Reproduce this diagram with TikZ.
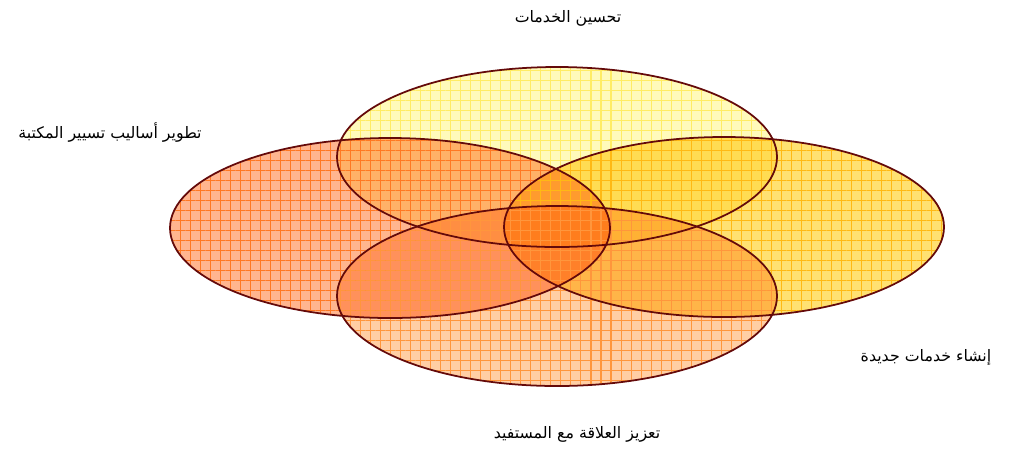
\documentclass[tikz,border=0pt]{standalone}
\usepackage{fontspec}
\usepackage{tikz}
\usetikzlibrary{shapes.geometric,patterns.meta}
\newfontfamily\arabicfont[Script=Arabic]{DejaVu Sans}
\TeXXeTstate=1
\definecolor{vennborder}{RGB}{100,10,10}
\definecolor{topfill}{RGB}{255,249,168}
\definecolor{topgrid}{RGB}{255,236,100}
\definecolor{leftfill}{RGB}{255,160,112}
\definecolor{leftgrid}{RGB}{255,120,35}
\definecolor{rightfill}{RGB}{255,216,74}
\definecolor{rightgrid}{RGB}{255,185,20}
\definecolor{botfill}{RGB}{255,192,138}
\definecolor{botgrid}{RGB}{255,150,60}

\tikzset{
  venn/.style={ellipse, inner sep=0pt,
    minimum width=8.8cm, minimum height=3.6cm, fill=#1, fill opacity=0.78},
  venngrid/.style={pattern={Hatch[angle=0,distance=5.7pt,line width=0.6pt]},
    pattern color=#1, fill opacity=0.7},
  arlabel/.style={font=\arabicfont\small, inner sep=1pt}
}

\begin{document}
\begin{tikzpicture}
  \useasboundingbox (0,0) rectangle (20.18,-9.02);
  % the four sets
  \begin{scope}[blend mode=multiply]
    \node[venn=topfill] (services) at (11.14,-3.14) {};
    \node[venn=leftfill] (methods) at (7.8,-4.56) {};
    \node[venn=rightfill] (newserv) at (14.48,-4.54) {};
    \node[venn=botfill] (users) at (11.14,-5.92) {};
  \end{scope}
  % grid texture, then outlines on top
  \foreach \n/\c in {services/topgrid,methods/leftgrid,newserv/rightgrid,users/botgrid}
    \fill[venngrid=\c] (\n.center) ellipse [x radius=4.4cm, y radius=1.8cm];
  \foreach \n in {services,methods,newserv,users}
    \draw[vennborder,line width=1pt] (\n.center) ellipse [x radius=4.4cm, y radius=1.8cm];
  % labels
  \node[arlabel] (lservices) at (11.36,-0.36) {\beginR تحسين الخدمات\endR};
  \node[arlabel] (lmethods) at (2.2,-2.66) {\beginR تطوير أساليب تسيير المكتبة\endR};
  \node[arlabel] (lnewserv) at (18.52,-7.14) {\beginR إنشاء خدمات جديدة\endR};
  \node[arlabel] (lusers) at (11.54,-8.68) {\beginR تعزيز العلاقة مع المستفيد\endR};
\end{tikzpicture}
\end{document}
